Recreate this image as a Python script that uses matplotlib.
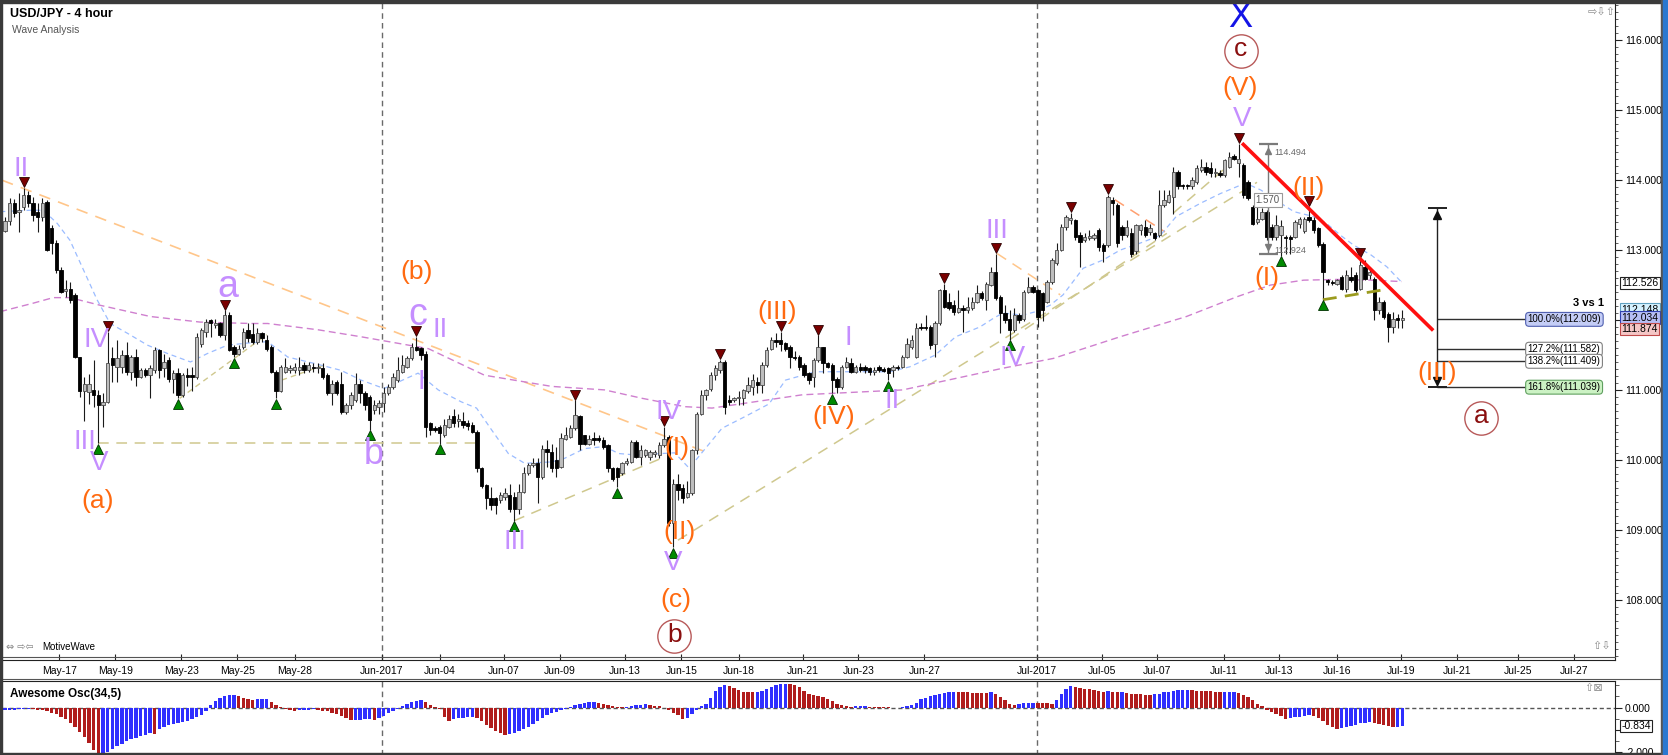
import matplotlib
matplotlib.use("Agg")
import matplotlib.pyplot as plt
from matplotlib.patches import Rectangle
from matplotlib.lines import Line2D
from matplotlib.ticker import FixedLocator, FixedFormatter, FormatStrFormatter, MultipleLocator
import matplotlib.transforms as mtrans

plt.rcParams['font.family'] = ['Liberation Sans', 'DejaVu Sans']

# ---------------- USD/JPY 4h candles ----------------
opens = [
    # 16 May - 31 May
    113.28, 113.41, 113.67, 113.55, 113.62, 113.79, 113.67, 113.55, 113.48, 113.69,
    113.31, 113.10, 112.72, 112.41, 112.45, 112.36, 111.47, 110.99, 110.97, 111.00,
    110.93, 110.79, 110.83, 111.45, 111.33, 111.33, 111.50, 111.26, 111.47, 111.19,
    111.28, 111.21, 111.28, 111.57, 111.31, 111.43, 111.16, 111.24, 110.93, 111.21,
    111.21, 111.19, 111.66, 111.83, 112.00, 111.93, 111.95, 111.78, 112.07, 111.62,
    111.52, 111.62, 111.86, 111.80, 111.69, 111.81, 111.71, 111.62, 111.26, 110.99,
    111.26, 111.28, 111.28, 111.28, 111.35, 111.28, 111.33, 111.31, 111.31, 111.21,
    110.95, 111.12, 111.09, 110.69, 110.78, 110.85,
    # June
    111.09, 110.96, 110.90, 110.71, 110.76, 110.81, 110.95, 111.04, 111.14, 111.26,
    111.33, 111.45, 111.62, 111.60, 111.52, 110.52, 110.46, 110.47, 110.35, 110.47,
    110.62, 110.55, 110.55, 110.53, 110.50, 110.40, 109.88, 109.64, 109.45, 109.45,
    109.42, 109.47, 109.49, 109.47, 109.30, 109.54, 109.81, 109.92, 109.95, 109.76,
    110.16, 110.11, 110.00, 109.90, 110.30, 110.33, 110.45, 110.62, 110.35, 110.23,
    110.31, 110.31, 110.28, 110.21, 109.88, 109.88, 109.81, 109.95, 109.97, 110.26,
    110.04, 110.07, 110.04, 110.09, 110.07, 110.21, 110.33, 109.10, 109.66, 109.59,
    109.47, 109.52, 110.14, 110.66, 110.93,
    111.02, 111.21, 111.28, 111.40, 110.85, 110.85, 110.88, 110.88, 110.99, 111.04,
    111.12, 111.07, 111.36, 111.59, 111.71, 111.71, 111.67, 111.62, 111.47, 111.47,
    111.35, 111.24, 111.19, 111.43, 111.62, 111.38, 111.35, 111.16, 111.04, 111.33,
    111.38, 111.26, 111.33, 111.33, 111.31, 111.26, 111.33, 111.30, 111.31, 111.28,
    111.33, 111.33, 111.47, 111.62, 111.47, 111.90, 111.90, 111.90, 111.66, 111.95,
    112.43, 112.26, 112.21, 112.12, 112.17, 112.14, 112.17, 112.26, 112.38, 112.29,
    112.50, 112.69, 112.33, 112.10, 112.02, 111.86, 112.07, 112.02, 112.40, 112.47,
    112.43, 112.38, 112.26, 112.55, 112.81,
    # July
    113.00, 113.33, 113.43, 113.43, 113.21, 113.14, 113.17, 113.17, 113.29, 113.07,
    113.07, 113.71, 113.64, 113.33, 113.21, 113.24, 112.98, 113.29, 113.33, 113.26,
    113.24, 113.21, 113.64, 113.69, 113.76, 114.12, 113.93, 113.93, 113.91, 113.98,
    114.15, 114.19, 114.17, 114.10, 114.10, 114.07, 114.19, 114.34, 114.24, 114.22,
    113.98, 113.62, 113.40, 113.45, 113.55, 113.33, 113.19, 113.21, 113.19, 113.19,
    113.19, 113.38, 113.28, 113.48, 113.43, 113.31, 113.09, 112.57, 112.55, 112.52,
    112.62, 112.45, 112.62, 112.64, 112.45, 112.76, 112.64, 112.59, 112.14, 112.26,
    112.09, 111.90, 112.03, 112.00,
]
highs = [
    113.47, 113.74, 113.73, 113.81, 113.89, 113.84, 113.76, 113.67, 113.75, 113.72,
    113.36, 113.14, 112.76, 112.57, 112.55, 112.38, 111.47, 111.19, 111.23, 111.43,
    111.00, 110.95, 111.83, 111.62, 111.71, 111.57, 111.69, 111.50, 111.59, 111.31,
    111.31, 111.35, 111.62, 111.59, 111.52, 111.47, 111.28, 111.31, 111.24, 111.31,
    111.33, 111.81, 111.88, 112.02, 112.02, 112.02, 111.97, 112.14, 112.12, 111.64,
    111.64, 111.88, 111.95, 111.95, 111.88, 111.83, 111.78, 111.64, 111.28, 111.35,
    111.45, 111.35, 111.38, 111.47, 111.40, 111.40, 111.38, 111.38, 111.38, 111.24,
    111.14, 111.14, 111.26, 110.81, 110.97, 111.24,
    111.14, 110.99, 110.93, 110.85, 110.85, 111.04, 111.09, 111.24, 111.47, 111.50,
    111.48, 111.67, 111.76, 111.62, 111.55, 110.54, 110.48, 110.50, 110.59, 110.64,
    110.73, 110.66, 110.69, 110.57, 110.54, 110.43, 109.90, 109.66, 109.61, 109.47,
    109.54, 109.59, 109.66, 109.54, 109.66, 109.90, 109.95, 110.02, 110.02, 110.21,
    110.28, 110.23, 110.19, 110.38, 110.47, 110.50, 110.85, 110.64, 110.35, 110.35,
    110.40, 110.35, 110.33, 110.23, 109.90, 109.90, 109.97, 110.02, 110.28, 110.28,
    110.21, 110.16, 110.14, 110.14, 110.26, 110.47, 110.35, 109.73, 109.80, 109.66,
    109.69, 110.16, 110.69, 111.00, 111.02,
    111.26, 111.36, 111.43, 111.43, 110.92, 110.90, 110.99, 111.02, 111.19, 111.23,
    111.19, 111.40, 111.62, 111.76, 111.81, 111.83, 111.69, 111.64, 111.55, 111.50,
    111.38, 111.26, 111.45, 111.78, 111.62, 111.40, 111.38, 111.19, 111.35, 111.47,
    111.45, 111.35, 111.38, 111.35, 111.33, 111.33, 111.35, 111.33, 111.33, 111.35,
    111.35, 111.50, 111.74, 111.78, 111.95, 111.95, 112.07, 111.93, 111.98, 112.45,
    112.52, 112.38, 112.28, 112.43, 112.21, 112.33, 112.33, 112.50, 112.41, 112.55,
    112.76, 112.95, 112.36, 112.21, 112.14, 112.17, 112.10, 112.43, 112.62, 112.50,
    112.45, 112.40, 112.57, 112.88, 113.10,
    113.38, 113.50, 113.53, 113.45, 113.26, 113.24, 113.29, 113.24, 113.31, 113.10,
    113.79, 113.76, 113.67, 113.36, 113.43, 113.31, 113.38, 113.38, 113.43, 113.38,
    113.26, 113.86, 113.86, 113.86, 114.19, 114.15, 113.95, 113.95, 114.05, 114.22,
    114.31, 114.26, 114.26, 114.17, 114.15, 114.31, 114.41, 114.38, 114.52, 114.24,
    114.00, 113.64, 113.62, 113.60, 113.57, 113.38, 113.50, 113.43, 113.21, 113.21,
    113.43, 113.48, 113.48, 113.62, 113.48, 113.33, 113.12, 112.59, 112.57, 112.59,
    112.64, 112.71, 112.76, 112.69, 112.88, 112.86, 112.76, 112.62, 112.33, 112.28,
    112.12, 112.12, 112.09, 112.14,
]
lows = [
    113.26, 113.36, 113.48, 113.26, 113.57, 113.62, 113.41, 113.26, 113.41, 112.98,
    112.94, 112.67, 112.38, 112.33, 112.24, 111.45, 110.90, 110.55, 110.80, 110.76,
    110.24, 110.47, 110.81, 111.12, 111.12, 111.24, 111.21, 111.14, 111.05, 111.17,
    111.19, 110.88, 111.24, 111.17, 111.19, 111.12, 110.95, 110.88, 110.90, 111.05,
    110.99, 111.16, 111.62, 111.76, 111.76, 111.88, 111.76, 111.71, 111.55, 111.47,
    111.50, 111.59, 111.69, 111.66, 111.66, 111.69, 111.55, 111.24, 110.88, 110.97,
    111.24, 111.24, 111.24, 111.21, 111.24, 111.26, 111.26, 111.24, 111.16, 110.92,
    110.78, 110.92, 110.66, 110.66, 110.73, 110.83,
    110.81, 110.71, 110.43, 110.66, 110.66, 110.69, 110.93, 111.02, 111.12, 111.24,
    111.31, 111.43, 111.55, 111.43, 110.33, 110.35, 110.40, 110.23, 110.33, 110.45,
    110.47, 110.47, 110.45, 110.43, 110.38, 109.83, 109.59, 109.30, 109.28, 109.23,
    109.38, 109.42, 109.26, 109.13, 109.23, 109.52, 109.78, 109.90, 109.38, 109.73,
    109.90, 109.83, 109.76, 109.88, 110.28, 110.31, 110.43, 110.14, 110.21, 110.21,
    110.21, 110.26, 110.16, 109.83, 109.69, 109.61, 109.78, 109.92, 109.95, 110.02,
    109.92, 110.04, 110.00, 110.04, 110.02, 110.19, 109.05, 108.75, 109.42, 109.38,
    109.45, 109.49, 110.09, 110.64, 110.85,
    110.99, 111.14, 111.24, 110.66, 110.78, 110.83, 110.78, 110.78, 110.95, 110.92,
    110.95, 110.95, 111.33, 111.57, 111.62, 111.55, 111.55, 111.31, 111.43, 111.28,
    111.19, 111.09, 111.04, 111.40, 111.24, 111.31, 110.95, 110.95, 111.02, 111.31,
    111.24, 111.24, 111.26, 111.24, 111.21, 111.21, 111.26, 111.26, 111.14, 111.19,
    111.28, 111.31, 111.45, 111.59, 111.45, 111.86, 111.86, 111.59, 111.47, 111.93,
    112.17, 112.14, 112.07, 112.10, 111.83, 112.10, 112.14, 112.24, 112.29, 112.14,
    112.48, 112.29, 111.81, 111.95, 111.72, 111.83, 111.95, 111.98, 112.38, 112.38,
    111.90, 111.98, 112.24, 112.52, 112.79,
    112.98, 113.29, 113.38, 113.14, 112.76, 113.12, 113.14, 113.14, 112.98, 112.83,
    113.05, 113.50, 113.05, 113.14, 113.19, 112.90, 112.95, 113.21, 113.19, 113.21,
    113.14, 113.19, 113.62, 113.67, 113.52, 113.88, 113.88, 113.88, 113.88, 113.95,
    114.12, 114.07, 114.05, 114.05, 114.05, 114.05, 114.17, 114.29, 114.05, 113.74,
    113.72, 113.36, 113.38, 113.43, 113.14, 113.14, 113.14, 112.92, 112.95, 112.95,
    113.17, 113.31, 113.24, 113.40, 113.24, 113.05, 112.29, 112.50, 112.50, 112.50,
    112.43, 112.40, 112.55, 112.40, 112.43, 112.57, 112.59, 112.00, 112.09, 112.02,
    111.69, 111.81, 111.88, 111.88,
]
closes = [
    113.42, 113.67, 113.53, 113.57, 113.79, 113.67, 113.50, 113.47, 113.68, 113.00,
    113.10, 112.72, 112.40, 112.45, 112.29, 111.47, 110.99, 111.08, 111.08, 110.93,
    110.78, 110.83, 111.38, 111.36, 111.45, 111.50, 111.26, 111.47, 111.19, 111.28,
    111.21, 111.31, 111.57, 111.28, 111.40, 111.16, 111.24, 110.93, 111.21, 111.19,
    111.19, 111.76, 111.86, 111.97, 111.95, 111.95, 111.78, 112.07, 111.57, 111.52,
    111.59, 111.83, 111.74, 111.69, 111.81, 111.74, 111.59, 111.26, 110.99, 111.33,
    111.33, 111.31, 111.33, 111.33, 111.28, 111.35, 111.31, 111.33, 111.19, 110.95,
    111.09, 110.95, 110.69, 110.78, 110.93, 111.09,
    110.95, 110.78, 110.57, 110.78, 110.81, 110.95, 111.04, 111.19, 111.28, 111.36,
    111.45, 111.62, 111.57, 111.50, 110.47, 110.43, 110.43, 110.38, 110.50, 110.59,
    110.52, 110.59, 110.50, 110.48, 110.40, 109.88, 109.62, 109.45, 109.35, 109.35,
    109.49, 109.52, 109.30, 109.30, 109.54, 109.81, 109.92, 109.95, 109.76, 110.16,
    110.11, 109.88, 109.88, 110.31, 110.35, 110.45, 110.64, 110.23, 110.23, 110.30,
    110.28, 110.28, 110.19, 109.88, 109.73, 109.76, 109.95, 109.99, 110.26, 110.04,
    110.14, 110.14, 110.11, 110.11, 110.21, 110.30, 109.10, 109.66, 109.57, 109.45,
    109.52, 110.14, 110.66, 110.93, 111.00,
    111.21, 111.31, 111.40, 110.76, 110.83, 110.88, 110.90, 111.00, 111.07, 111.14,
    111.07, 111.35, 111.57, 111.71, 111.68, 111.66, 111.59, 111.47, 111.45, 111.33,
    111.21, 111.14, 111.43, 111.62, 111.38, 111.33, 111.14, 111.04, 111.33, 111.40,
    111.26, 111.33, 111.29, 111.28, 111.26, 111.28, 111.29, 111.27, 111.24, 111.33,
    111.31, 111.47, 111.66, 111.71, 111.88, 111.88, 111.88, 111.64, 111.95, 112.43,
    112.19, 112.17, 112.12, 112.17, 112.14, 112.19, 112.26, 112.38, 112.31, 112.52,
    112.69, 112.31, 112.10, 112.00, 111.86, 112.07, 112.00, 112.40, 112.47, 112.40,
    112.05, 112.14, 112.55, 112.86, 113.00,
    113.33, 113.48, 113.46, 113.19, 113.12, 113.19, 113.20, 113.21, 113.05, 112.98,
    113.76, 113.67, 113.10, 113.21, 113.33, 112.95, 113.36, 113.36, 113.21, 113.31,
    113.17, 113.64, 113.71, 113.79, 114.12, 113.91, 113.91, 113.91, 114.00, 114.17,
    114.19, 114.12, 114.10, 114.12, 114.08, 114.29, 114.33, 114.31, 114.31, 113.79,
    113.74, 113.38, 113.45, 113.55, 113.19, 113.19, 113.36, 113.35, 113.17, 113.16,
    113.40, 113.45, 113.45, 113.43, 113.29, 113.07, 112.69, 112.55, 112.53, 112.57,
    112.45, 112.64, 112.57, 112.43, 112.79, 112.59, 112.69, 112.14, 112.26, 112.05,
    111.90, 112.02, 112.00, 112.03,
]

# Awesome Oscillator (34,5), one value per candle
ao = [
    -0.12, -0.10, -0.09, -0.08, -0.06, -0.05, -0.08, -0.10, -0.12, -0.16,
    -0.22, -0.30, -0.40, -0.52, -0.68, -0.86, -1.08, -1.32, -1.60, -1.90, -2.15,
    -2.12, -2.00, -1.86, -1.73, -1.61, -1.51, -1.42, -1.34, -1.27, -1.21, -1.15,
    -1.18,
    -0.95, -0.88, -0.80, -0.74, -0.68, -0.63, -0.58, -0.52, -0.44, -0.32, -0.16,
    0.12, 0.28, 0.42, 0.52, 0.56, 0.57,
    0.50, 0.45, 0.40, 0.36,
    0.37, 0.38, 0.39,
    0.25, 0.10, 0.02,
    -0.05, -0.12, -0.15, -0.12, -0.10, -0.09, -0.08, -0.10, -0.13, -0.16,
    -0.22, -0.28, -0.36, -0.45, -0.56,
    -0.55, -0.54, -0.53, -0.52,
    -0.54,
    -0.48, -0.38, -0.26, -0.15, -0.05,
    0.05, 0.15, 0.24, 0.30, 0.36,
    0.26, 0.12, 0.02, -0.06,
    -0.40, -0.62,
    -0.50, -0.46, -0.45, -0.44, -0.43,
    -0.48, -0.62, -0.76, -0.90, -1.04, -1.15, -1.24,
    -1.20, -1.14, -1.05, -0.95, -0.85, -0.72, -0.58, -0.46, -0.34, -0.25, -0.18,
    -0.12, -0.05,
    0.03, 0.10, 0.18, 0.22, 0.23, 0.24,
    0.20, 0.16, 0.11, 0.06, 0.03, 0.01,
    0.03, 0.07, 0.12, 0.13, 0.14,
    0.12, 0.08, 0.05,
    -0.02, -0.12, -0.22, -0.35, -0.50,
    -0.48, -0.30, -0.12, 0.05,
    0.18, 0.45, 0.75, 0.93, 0.99,
    0.96, 0.88, 0.78, 0.72, 0.70, 0.69,
    0.72, 0.76, 0.84, 0.92, 0.99, 1.04, 1.07,
    1.04, 0.99, 0.90, 0.76, 0.62, 0.56, 0.52, 0.46, 0.40, 0.30, 0.18, 0.10, 0.07,
    0.04, 0.05, 0.06, 0.065, 0.04, 0.03, 0.02, 0.01, 0.005, 0.0, -0.005,
    0.01, 0.05, 0.10, 0.20, 0.38, 0.45, 0.50, 0.55, 0.60, 0.64, 0.68, 0.72,
    0.70, 0.69, 0.68, 0.675, 0.67, 0.66, 0.65,
    0.72,
    0.62, 0.48, 0.32, 0.18, 0.12,
    0.16, 0.19, 0.21, 0.22,
    0.21, 0.20, 0.19, 0.18,
    0.35, 0.60, 0.85, 0.96,
    0.93, 0.89, 0.85, 0.81, 0.77, 0.74, 0.72,
    0.73,
    0.70, 0.68,
    0.72,
    0.66, 0.62, 0.60, 0.59, 0.58, 0.57,
    0.60, 0.63, 0.68, 0.72, 0.75, 0.77, 0.78, 0.79,
    0.77, 0.76, 0.75, 0.74, 0.73, 0.71, 0.68,
    0.69, 0.70, 0.71,
    0.66, 0.58, 0.48, 0.34, 0.16, 0.05,
    -0.10, -0.20, -0.28, -0.36, -0.52,
    -0.48, -0.44, -0.40, -0.36, -0.33,
    -0.36, -0.45, -0.62, -0.78, -0.88, -0.94,
    -0.90, -0.86, -0.81, -0.76, -0.71, -0.68, -0.66,
    -0.69, -0.72, -0.76, -0.82, -0.87,
    -0.85, -0.834,
]

# moving averages, read at sample bars (bar index, price)
ma_fast_x = [-1, 5.4, 8.2, 11.2, 13.9, 16.5, 19.7, 22.5, 26.2, 30.5, 34.8, 39.7, 43.3,
             47.6, 51.9, 56.2, 60.5, 66.1, 71.9, 76.2, 81.1, 88.4, 92.7, 97.6, 100.9,
             104.1, 107.7, 111.2, 117, 119.7, 124, 128.3, 131.3, 134.8, 140.6, 143.3,
             146.4, 153.4, 158.4, 163.5, 167, 173.4, 177.7, 189.3, 193.6, 199.1, 203.4,
             208.6, 211.4, 213.5, 217.8, 220.6, 223.6, 226.4, 230.7, 235, 238.6, 242.9,
             247.2, 250.6, 255.8, 260.1, 264.4, 265.7, 268.7, 273, 275.8, 280, 282.8,
             285.8, 288.6, 292.3, 295.7, 298.7]
ma_fast_y = [113.55, 113.57, 113.57, 113.38, 113.14, 112.76, 112.29, 111.95, 111.81,
             111.64, 111.52, 111.40, 111.52, 111.64, 111.67, 111.69, 111.47, 111.38,
             111.28, 111.14, 111.02, 111.24, 111.00, 110.83, 110.74, 110.43, 110.09,
             109.95, 109.97, 110.02, 110.16, 110.19, 110.09, 110.07, 110.09, 110.10,
             109.88, 110.45, 110.62, 110.80, 111.14, 111.26, 111.26, 111.26, 111.33,
             111.50, 111.76, 111.90, 112.02, 112.10, 112.07, 112.12, 112.21, 112.36,
             112.74, 112.86, 113.00, 113.10, 113.21, 113.48, 113.67, 113.81, 113.93,
             113.95, 113.86, 113.67, 113.55, 113.48, 113.38, 113.21, 113.07, 112.93,
             112.76, 112.55]
ma_slow_x = [-1, 6, 10.3, 13.9, 20.4, 31.1, 41.8, 52.6, 56.2, 67, 76.2, 90.6, 102.6, 117,
             128.3, 136.3, 145.5, 151.3, 170.6, 192.1, 213.5, 224.3, 238.6, 252.8, 263.5,
             270.8, 277.9, 285, 292.3, 298.9]
ma_slow_y = [112.12, 112.24, 112.32, 112.32, 112.21, 112.05, 111.97, 111.95, 111.95,
             111.86, 111.76, 111.59, 111.21, 111.05, 111.00, 110.88, 110.76, 110.74,
             110.93, 111.00, 111.31, 111.45, 111.76, 112.05, 112.33, 112.50, 112.57,
             112.58, 112.57, 112.55]

swing_highs = [4, 22, 47, 88, 122, 141, 153, 166, 174, 201, 212, 228, 236, 264, 279, 290]
swing_lows = [20, 37, 49, 58, 78, 93, 109, 131, 143, 177, 189, 215, 273, 282]

date_labels = ['May-17', 'May-19', 'May-23', 'May-25', 'May-28', 'Jun-2017', 'Jun-04',
               'Jun-07', 'Jun-09', 'Jun-13', 'Jun-15', 'Jun-18', 'Jun-21', 'Jun-23',
               'Jun-27', 'Jul-2017', 'Jul-05', 'Jul-07', 'Jul-11', 'Jul-13', 'Jul-16',
               'Jul-19', 'Jul-21', 'Jul-25', 'Jul-27']
date_bars = [11.6, 23.6, 37.7, 49.7, 62.0, 80.6, 93.0, 106.7, 118.7, 132.6, 144.7, 157.0,
             170.7, 182.6, 196.7, 220.8, 234.7, 246.6, 260.8, 272.7, 285.1, 298.8, 310.7,
             323.7, 335.8]
month_starts = [80.6, 220.8]

fib_pcts = ['100.0%', '127.2%', '138.2%', '161.8%']
fib_levels = [112.009, 111.582, 111.409, 111.039]
price_tags = [112.526, 112.148, 112.034, 111.874]
ao_last = -0.834

# ---------------- figure ----------------
W, H = 1668, 755
fig = plt.figure(figsize=(W / 100, H / 100), dpi=100)
fig.patch.set_facecolor('white')


def fx(px):
    return px / W


def fy(py):
    return 1 - py / H


ax = fig.add_axes([fx(2), fy(660), fx(1613), (660 - 3) / H])
osc = fig.add_axes([fx(2), fy(755), fx(1613), (755 - 681) / H])

XMIN, XMAX = -0.64, 344.5
n = len(closes)
idx = list(range(n))

# candles
ax.vlines(idx, lows, highs, color='#1a1a1a', lw=0.8, zorder=3)
up = [c >= o for o, c in zip(opens, closes)]
bottoms = [min(o, c) for o, c in zip(opens, closes)]
heights = [max(abs(c - o), 0.012) for o, c in zip(opens, closes)]
ax.bar(idx, heights, bottom=bottoms, width=0.72,
       color=['#bdbdbd' if u else '#000000' for u in up],
       edgecolor=['#4a4a4a' if u else '#000000' for u in up], linewidth=0.6, zorder=4)

# moving averages
ax.plot(ma_fast_x, ma_fast_y, color='#9bbcff', lw=0.9, ls=(0, (4, 3)), zorder=2)
ax.plot(ma_slow_x, ma_slow_y, color='#cf80cf', lw=1.0, ls=(0, (5, 3)), zorder=2)

# swing markers
ax.plot(swing_highs, [highs[i] + 0.08 for i in swing_highs], 'v', ms=7,
        mfc='#7a0000', mec='#2a0000', mew=0.6, zorder=6)
ax.plot(swing_lows, [lows[i] - 0.08 for i in swing_lows], '^', ms=7,
        mfc='#008a00', mec='#003000', mew=0.6, zorder=6)

# trend lines
tan = '#cfc88e'
dash = (0, (7, 5))
ax.plot([-0.64, 150.8], [114.0, 110.09], color='#ffc68a', lw=1.2, ls=dash, zorder=1)
ax.plot([20, 101.6], [lows[20], lows[20]], color=tan, lw=1.1, ls=dash, zorder=1)
ax.plot([37.4, 56.0], [lows[37], 111.79], color=tan, lw=1.0, ls=(0, (4, 3)), zorder=1)
ax.plot([59.2, 68.5], [111.14, 111.36], color=tan, lw=1.0, ls=(0, (4, 3)), zorder=1)
ax.plot([109, 140.4], [lows[109], 110.02], color=tan, lw=1.1, ls=dash, zorder=1)
ax.plot([144.0, 267.9], [108.85, 113.97], color=tan, lw=1.1, ls=dash, zorder=1)
ax.plot([215.0, 248.6], [lows[215], 113.24], color=tan, lw=1.1, ls=dash, zorder=1)
ax.plot([250.0, 261.4], [113.53, 114.19], color=tan, lw=1.1, ls=dash, zorder=1)
ax.plot([212.3, 225.8], [highs[212], 112.36], color='#ffc68a', lw=1.1, ls=dash, zorder=1)
ax.plot([237.5, 248.2], [113.72, 113.26], color='#ffa070', lw=1.1, ls=dash, zorder=1)
ax.plot([282, 294.8], [lows[282], 112.43], color='#9b9b1e', lw=2, ls=(0, (5, 3)), zorder=5)
ax.plot([264.7, 305.6], [114.53, 111.85], color='#ff1010', lw=2.6, zorder=7,
        solid_capstyle='butt')

# month separators
for m in month_starts:
    ax.axvline(m, color='#6a6a6a', lw=1, ls=(0, (4, 3)), zorder=0)
    osc.axvline(m, color='#6a6a6a', lw=1, ls=(0, (4, 3)), zorder=0)

# measuring tool (wave (I))
mx = 270.2
ax.vlines(mx, 112.94, 114.52, color='#7a7a7a', lw=1, zorder=6)
ax.hlines([114.52, 112.94], 268.3, 272.4, color='#7a7a7a', lw=1.6, zorder=6)
ax.plot([mx], [114.42], '^', color='#7a7a7a', ms=5, zorder=6)
ax.plot([mx], [113.04], 'v', color='#7a7a7a', ms=5, zorder=6)
ax.text(271.6, 114.40, '114.494', fontsize=6.5, color='#6a6a6a', va='center', zorder=8)
ax.text(271.6, 112.99, '112.924', fontsize=6.5, color='#6a6a6a', va='center', zorder=8)
ax.text(mx, 113.72, '1.570', fontsize=7, color='#5a5a5a', ha='center', va='center', zorder=8,
        bbox=dict(boxstyle='square,pad=0.2', fc='white', ec='#9a9a9a', lw=0.8))

# fibonacci projection
vx = 306.4
ax.vlines(vx, fib_levels[-1], 113.60, color='#202020', lw=1, zorder=6)
ax.hlines([113.60, fib_levels[-1]], 304.5, 308.5, color='#202020', lw=1.4, zorder=6)
ax.plot([vx], [113.50], '^', color='#101010', ms=6, zorder=6)
ax.plot([vx], [fib_levels[-1] + 0.09], 'v', color='#101010', ms=6, zorder=6)
ax.hlines(fib_levels, vx, 325.4, color='#303030', lw=1, zorder=5)
fib_fc = ['#c4cdf6', 'white', 'white', '#ccf2c4']
fib_ec = ['#5060b0', '#808080', '#808080', '#60a060']
for pct, lvl, fc, ec in zip(fib_pcts, fib_levels, fib_fc, fib_ec):
    ax.text(325.8, lvl, f'{pct}({lvl:.3f})', fontsize=7, va='center', ha='left', zorder=8,
            bbox=dict(boxstyle='round,pad=0.2,rounding_size=0.35', fc=fc, ec=ec, lw=0.8))
ax.text(342.2, 112.25, '3 vs 1', fontsize=8, weight='bold', ha='right', va='center', zorder=8)

# wave labels
purple = '#c58eff'
orange = '#ff6a10'
labels = [
    ('II', 3.4, 114.16, purple, 20), ('a', 47.7, 112.47, purple, 27),
    ('IV', 19.5, 111.71, purple, 20), ('III', 17.1, 110.26, purple, 20),
    ('V', 20.1, 109.96, purple, 20), ('(a)', 19.9, 109.41, orange, 19),
    ('(b)', 88.1, 112.69, orange, 19), ('c', 88.4, 112.07, purple, 27),
    ('II', 93.1, 111.86, purple, 20), ('I', 89.0, 111.11, purple, 20),
    ('b', 79.0, 110.08, purple, 26), ('III', 109.1, 108.82, purple, 20),
    ('IV', 141.9, 110.68, purple, 20), ('(I)', 143.8, 110.17, orange, 19),
    ('(II)', 144.4, 108.97, orange, 19), ('V', 142.9, 108.52, purple, 20),
    ('(c)', 143.6, 107.99, orange, 19), ('(III)', 165.2, 112.12, orange, 19),
    ('I', 180.4, 111.74, purple, 20), ('(IV)', 177.4, 110.61, orange, 19),
    ('II', 189.8, 110.84, purple, 20), ('III', 212.2, 113.27, purple, 20),
    ('IV', 215.7, 111.46, purple, 20), ('(V)', 264.2, 115.32, orange, 19),
    ('V', 264.7, 114.88, purple, 20), ('(I)', 270.0, 112.60, orange, 19),
    ('(II)', 279.0, 113.89, orange, 19), ('(III)', 306.4, 111.24, orange, 19),
]
for t, x, y, col, size in labels:
    ax.text(x, y, t, color=col, fontsize=size, ha='center', va='center', zorder=9)
ax.text(264.4, 116.33, 'X', color='#1414e6', fontsize=26, ha='center', va='center', zorder=9)
for t, x, y in [('b', 143.2, 107.48), ('c', 264.4, 115.85), ('a', 315.8, 110.60)]:
    ax.plot([x], [y], 'o', ms=24, mfc='white', mec='#b85a5a', mew=1.0, zorder=8)
    ax.text(x, y + 0.02, t, color='#8a0f0f', fontsize=19, ha='center', va='center', zorder=9)

# main axis styling
ax.set_xlim(XMIN, XMAX)
ax.set_ylim(107.136, 116.535)
ax.set_facecolor('white')
for s in ['left', 'top']:
    ax.spines[s].set_visible(False)
ax.spines['right'].set_color('#222222')
ax.spines['bottom'].set_color('#222222')
ax.yaxis.tick_right()
ax.yaxis.set_major_locator(FixedLocator([108, 109, 110, 111, 112, 113, 114, 115, 116]))
ax.yaxis.set_major_formatter(FormatStrFormatter('%.3f'))
ax.yaxis.set_minor_locator(MultipleLocator(0.1))
ax.tick_params(axis='y', which='major', length=5, labelsize=7.5, pad=2, color='#222222')
ax.tick_params(axis='y', which='minor', length=2.5, color='#444444')
ax.set_xticks(date_bars)
ax.set_xticklabels(date_labels)
ax.tick_params(axis='x', direction='in', length=4, labelsize=7.5, pad=4, color='#222222')

blend = mtrans.blended_transform_factory(ax.transAxes, ax.transData)
tag_fc = ['white', '#d6f2ff', '#b6bef4', '#f4c6c6']
tag_ec = ['#222222', '#60a0c0', '#3040b0', '#c04a4a']
for p, fc, ec in zip(price_tags, tag_fc, tag_ec):
    ax.text(1.004, p, f'{p:.3f}', transform=blend, fontsize=7.5, ha='left', va='center',
            clip_on=False, zorder=10,
            bbox=dict(boxstyle='square,pad=0.12', fc=fc, ec=ec, lw=0.8))

# awesome oscillator
ao = ao[:n]
cols = ['#2f2fff' if i == 0 or ao[i] >= ao[i - 1] else '#b01c1c' for i in range(len(ao))]
osc.bar(range(len(ao)), ao, width=0.72, color=cols, edgecolor='none', zorder=3)
osc.axhline(0, color='#555555', lw=1, ls=(0, (3, 2)), zorder=2)
osc.set_xlim(XMIN, XMAX)
osc.set_ylim(-2.12, 1.19)
osc.set_xticks([])
for s in ['left', 'bottom']:
    osc.spines[s].set_visible(False)
osc.spines['right'].set_color('#222222')
osc.spines['top'].set_color('#222222')
osc.yaxis.tick_right()
# the -1.000 label sits under the current-value tag, so only its tick is drawn
osc.yaxis.set_major_locator(FixedLocator([0, -1, -2]))
osc.yaxis.set_major_formatter(FixedFormatter(['0.000', '', '-2.000']))
osc.yaxis.set_minor_locator(FixedLocator([1.0, 0.5, -0.5, -1.5]))
osc.tick_params(axis='y', which='major', length=5, labelsize=7.5, pad=2, color='#222222')
osc.tick_params(axis='y', which='minor', length=3, color='#444444')
oblend = mtrans.blended_transform_factory(osc.transAxes, osc.transData)
osc.text(1.004, ao_last, f'{ao_last:.3f}', transform=oblend, fontsize=7.5, ha='left',
         va='center', clip_on=False, zorder=10,
         bbox=dict(boxstyle='square,pad=0.12', fc='white', ec='#222222', lw=0.8))
osc.text(0.005, 0.82, 'Awesome Osc(34,5)', transform=osc.transAxes, fontsize=8.5,
         weight='bold', va='center')

# frame, titles, small icons
fig.text(fx(10), fy(14), 'USD/JPY - 4 hour', fontsize=9, weight='bold', va='center')
fig.text(fx(12), fy(30), 'Wave Analysis', fontsize=7.5, color='#555555', va='center')
fig.text(fx(6), fy(647), '\u21d4 \u21e8\u21e6 ', fontsize=7, color='#808080', va='center',
         family=['DejaVu Sans'])
fig.text(fx(42), fy(647), 'MotiveWave', fontsize=7, va='center')
fig.text(fx(1588), fy(12), '\u21e8\u21e9\u21e7', fontsize=8, color='#8a8a8a', va='center',
         family=['DejaVu Sans'])
fig.text(fx(1592), fy(646), '\u21e7\u21e9', fontsize=8, color='#8a8a8a', va='center',
         family=['DejaVu Sans'])
fig.text(fx(1584), fy(688), '\u21e7\u22a0', fontsize=8, color='#8a8a8a', va='center',
         family=['DejaVu Sans'])

fig.add_artist(Line2D([fx(2), fx(1615)], [fy(656.5), fy(656.5)], color='#555555', lw=0.8))
fig.add_artist(Line2D([fx(2), fx(1661)], [fy(678.5), fy(678.5)], color='#555555', lw=0.8))
fig.add_artist(Rectangle((0, fy(3)), 1, 3 / H, color='#3a3a3a', zorder=20))
fig.add_artist(Rectangle((0, 0), 2 / W, 1, color='#3a3a3a', zorder=20))
fig.add_artist(Rectangle((0, 0), 1, 2 / H, color='#3a3a3a', zorder=20))
fig.add_artist(Rectangle((fx(1661), 0), 2 / W, 1, color='#555555', zorder=20))
fig.add_artist(Rectangle((fx(1663), 0), 5 / W, 1, color='#2a78d0', zorder=20))

fig.savefig('out.png', dpi=100)
